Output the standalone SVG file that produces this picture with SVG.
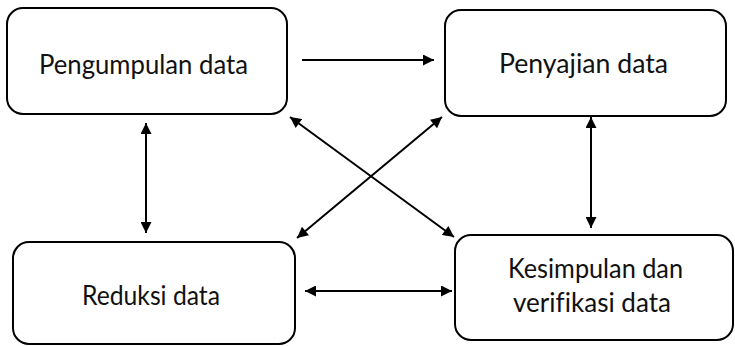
<svg xmlns="http://www.w3.org/2000/svg" width="735" height="346" viewBox="0 0 735 346">
<style>
.box{fill:#fff;stroke:#000;stroke-width:2}
.lbl{font-family:Lato,"Open Sans","Liberation Sans",sans-serif;font-size:26px;fill:#111;text-anchor:middle;font-variant-ligatures:none}
.con{stroke:#000;stroke-width:2;fill:none}
</style>
<defs>
<marker id="ah" viewBox="0 0 10 10" refX="10" refY="5" markerWidth="6" markerHeight="5.5" orient="auto-start-reverse" markerUnits="strokeWidth">
<path d="M0,0 L10,5 L0,10 z" fill="#000"/>
</marker>
</defs>
<rect width="735" height="346" fill="#fff"/>
<g id="node-pengumpulan">
<rect class="box" x="7" y="8" width="280" height="106" rx="16"/>
<text class="lbl" x="143.5" y="74" textLength="209" lengthAdjust="spacingAndGlyphs">Pengumpulan data</text>
</g>
<g id="node-penyajian">
<rect class="box" x="445" y="10" width="281" height="106" rx="16"/>
<text class="lbl" x="583.5" y="73" textLength="169" lengthAdjust="spacingAndGlyphs">Penyajian data</text>
</g>
<g id="node-reduksi">
<rect class="box" x="13" y="242" width="282" height="102" rx="16"/>
<text class="lbl" x="151" y="305" textLength="138" lengthAdjust="spacingAndGlyphs">Reduksi data</text>
</g>
<g id="node-kesimpulan">
<rect class="box" x="455" y="235" width="278" height="105" rx="16"/>
<text class="lbl" x="595.5" y="278" textLength="175" lengthAdjust="spacingAndGlyphs">Kesimpulan dan</text>
<text class="lbl" x="592" y="312" textLength="158" lengthAdjust="spacingAndGlyphs">verifikasi data</text>
</g>
<g id="connectors">
<line class="con" x1="302" y1="60" x2="434" y2="60" marker-end="url(#ah)"/>
<line class="con" x1="146" y1="123" x2="146" y2="233" marker-start="url(#ah)" marker-end="url(#ah)"/>
<line class="con" x1="591" y1="117" x2="591" y2="228" marker-start="url(#ah)" marker-end="url(#ah)"/>
<line class="con" x1="305" y1="291" x2="452" y2="291" marker-start="url(#ah)" marker-end="url(#ah)"/>
<line class="con" x1="290" y1="117" x2="454" y2="237" marker-start="url(#ah)" marker-end="url(#ah)"/>
<line class="con" x1="442" y1="117" x2="297" y2="238" marker-start="url(#ah)" marker-end="url(#ah)"/>
</g>
</svg>
